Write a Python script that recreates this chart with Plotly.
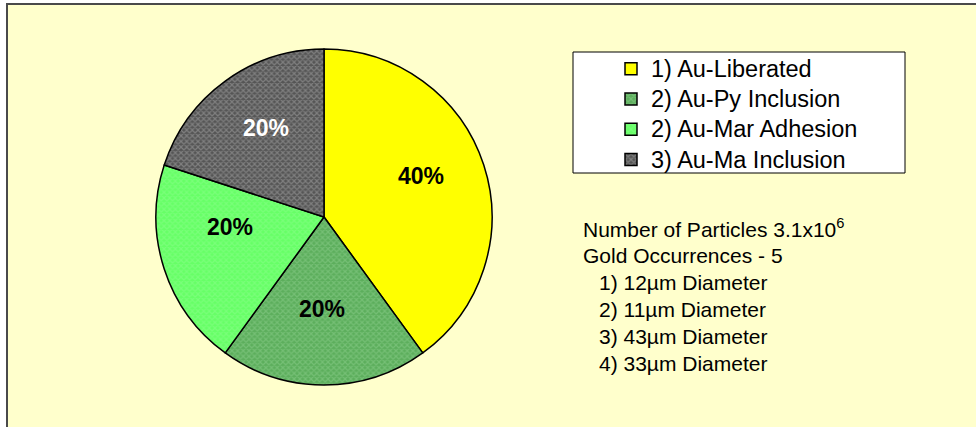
import math
import plotly.graph_objects as go

# Gold occurrence breakdown
categories = ["1) Au-Liberated", "2) Au-Py Inclusion", "2) Au-Mar Adhesion", "3) Au-Ma Inclusion"]
shares = [40, 20, 20, 20]

slice_colors = ["#FFFF00", "#5CAE5C", "#66FF66", "#555555"]
pattern_shapes = ["", "x", "x", "x"]
pattern_colors = ["#FFFF00", "#8ED08E", "#8CFF8C", "#AAAAAA"]
label_colors = ["black", "black", "black", "white"]
# where each percentage label sits inside its slice (fraction of radius, angle nudge in degrees)
label_radius = [0.63, 0.55, 0.56, 0.63]
label_nudge = [-5, 1, 12, 3]

notes_header = ["Number of Particles 3.1x10<sup>6</sup>", "Gold Occurrences - 5"]
notes_items = ["1) 12µm Diameter", "2) 11µm Diameter", "3) 43µm Diameter", "4) 33µm Diameter"]

W, H = 976, 427
FONT = "Liberation Sans, Arial, sans-serif"

def px_x(v):
    return v / W

def px_y(v):
    return 1 - v / H

cx, cy, r = 324, 217, 168

# legend entries use a slightly larger text than the row spacing implies
legend_labels = [f'<span style="font-size:23.5px">{c}</span>' for c in categories]

fig = go.Figure(
    go.Pie(
        labels=legend_labels,
        values=shares,
        customdata=categories,
        sort=False,
        direction="clockwise",
        rotation=0,
        marker=dict(
            colors=slice_colors,
            line=dict(color="black", width=1.5),
            pattern=dict(shape=pattern_shapes, fgcolor=pattern_colors,
                         size=4, solidity=0.5, fillmode="overlay"),
        ),
        textinfo="none",
        domain=dict(x=[px_x(cx - r), px_x(cx + r)], y=[px_y(cy + r), px_y(cy - r)]),
        hovertemplate="%{customdata}: %{percent}<extra></extra>",
    )
)

shapes = [
    # chart area frame
    dict(type="rect", xref="paper", yref="paper", layer="below",
         x0=px_x(7), x1=1.05, y0=-0.05, y1=px_y(4),
         fillcolor="#FFFFCC", line=dict(color="#4A4A4A", width=2)),
    # legend box
    dict(type="rect", xref="paper", yref="paper", layer="below",
         x0=px_x(573), x1=px_x(905), y0=px_y(173), y1=px_y(52),
         fillcolor="white", line=dict(color="black", width=1)),
]

annotations = []

# percentage labels, placed at each slice's mid angle (clockwise from 12 o'clock)
total = sum(shares)
start = 0.0
for i, v in enumerate(shares):
    frac = v / total
    mid = (start + frac / 2) * 360 + label_nudge[i]
    start += frac
    rad = math.radians(mid)
    lx = cx + label_radius[i] * r * math.sin(rad)
    ly = cy - label_radius[i] * r * math.cos(rad)
    annotations.append(dict(x=px_x(lx), y=px_y(ly), xref="paper", yref="paper",
                            text=f"{round(frac * 100)}%", showarrow=False,
                            xanchor="center", yanchor="middle",
                            font=dict(family=FONT, size=23, color=label_colors[i], weight="bold")))

y0 = 228
for i, t in enumerate(notes_header):
    annotations.append(dict(x=px_x(581), y=px_y(y0 + 27 * i), xref="paper", yref="paper",
                            text=t, showarrow=False, xanchor="left", yanchor="middle",
                            font=dict(family=FONT, size=21, color="black")))
for i, t in enumerate(notes_items):
    annotations.append(dict(x=px_x(597), y=px_y(y0 + 27 * (i + 2)), xref="paper", yref="paper",
                            text=t, showarrow=False, xanchor="left", yanchor="middle",
                            font=dict(family=FONT, size=21, color="black")))

fig.update_layout(
    width=W, height=H,
    margin=dict(l=0, r=0, t=0, b=0),
    paper_bgcolor="white",
    plot_bgcolor="white",
    shapes=shapes,
    annotations=annotations,
    showlegend=True,
    legend=dict(x=px_x(611), y=px_y(48.5), xanchor="left", yanchor="top",
                bgcolor="rgba(0,0,0,0)", borderwidth=0,
                font=dict(family=FONT, size=21, color="black"),
                itemclick=False, itemdoubleclick=False),
)

fig.write_html("out.html")
